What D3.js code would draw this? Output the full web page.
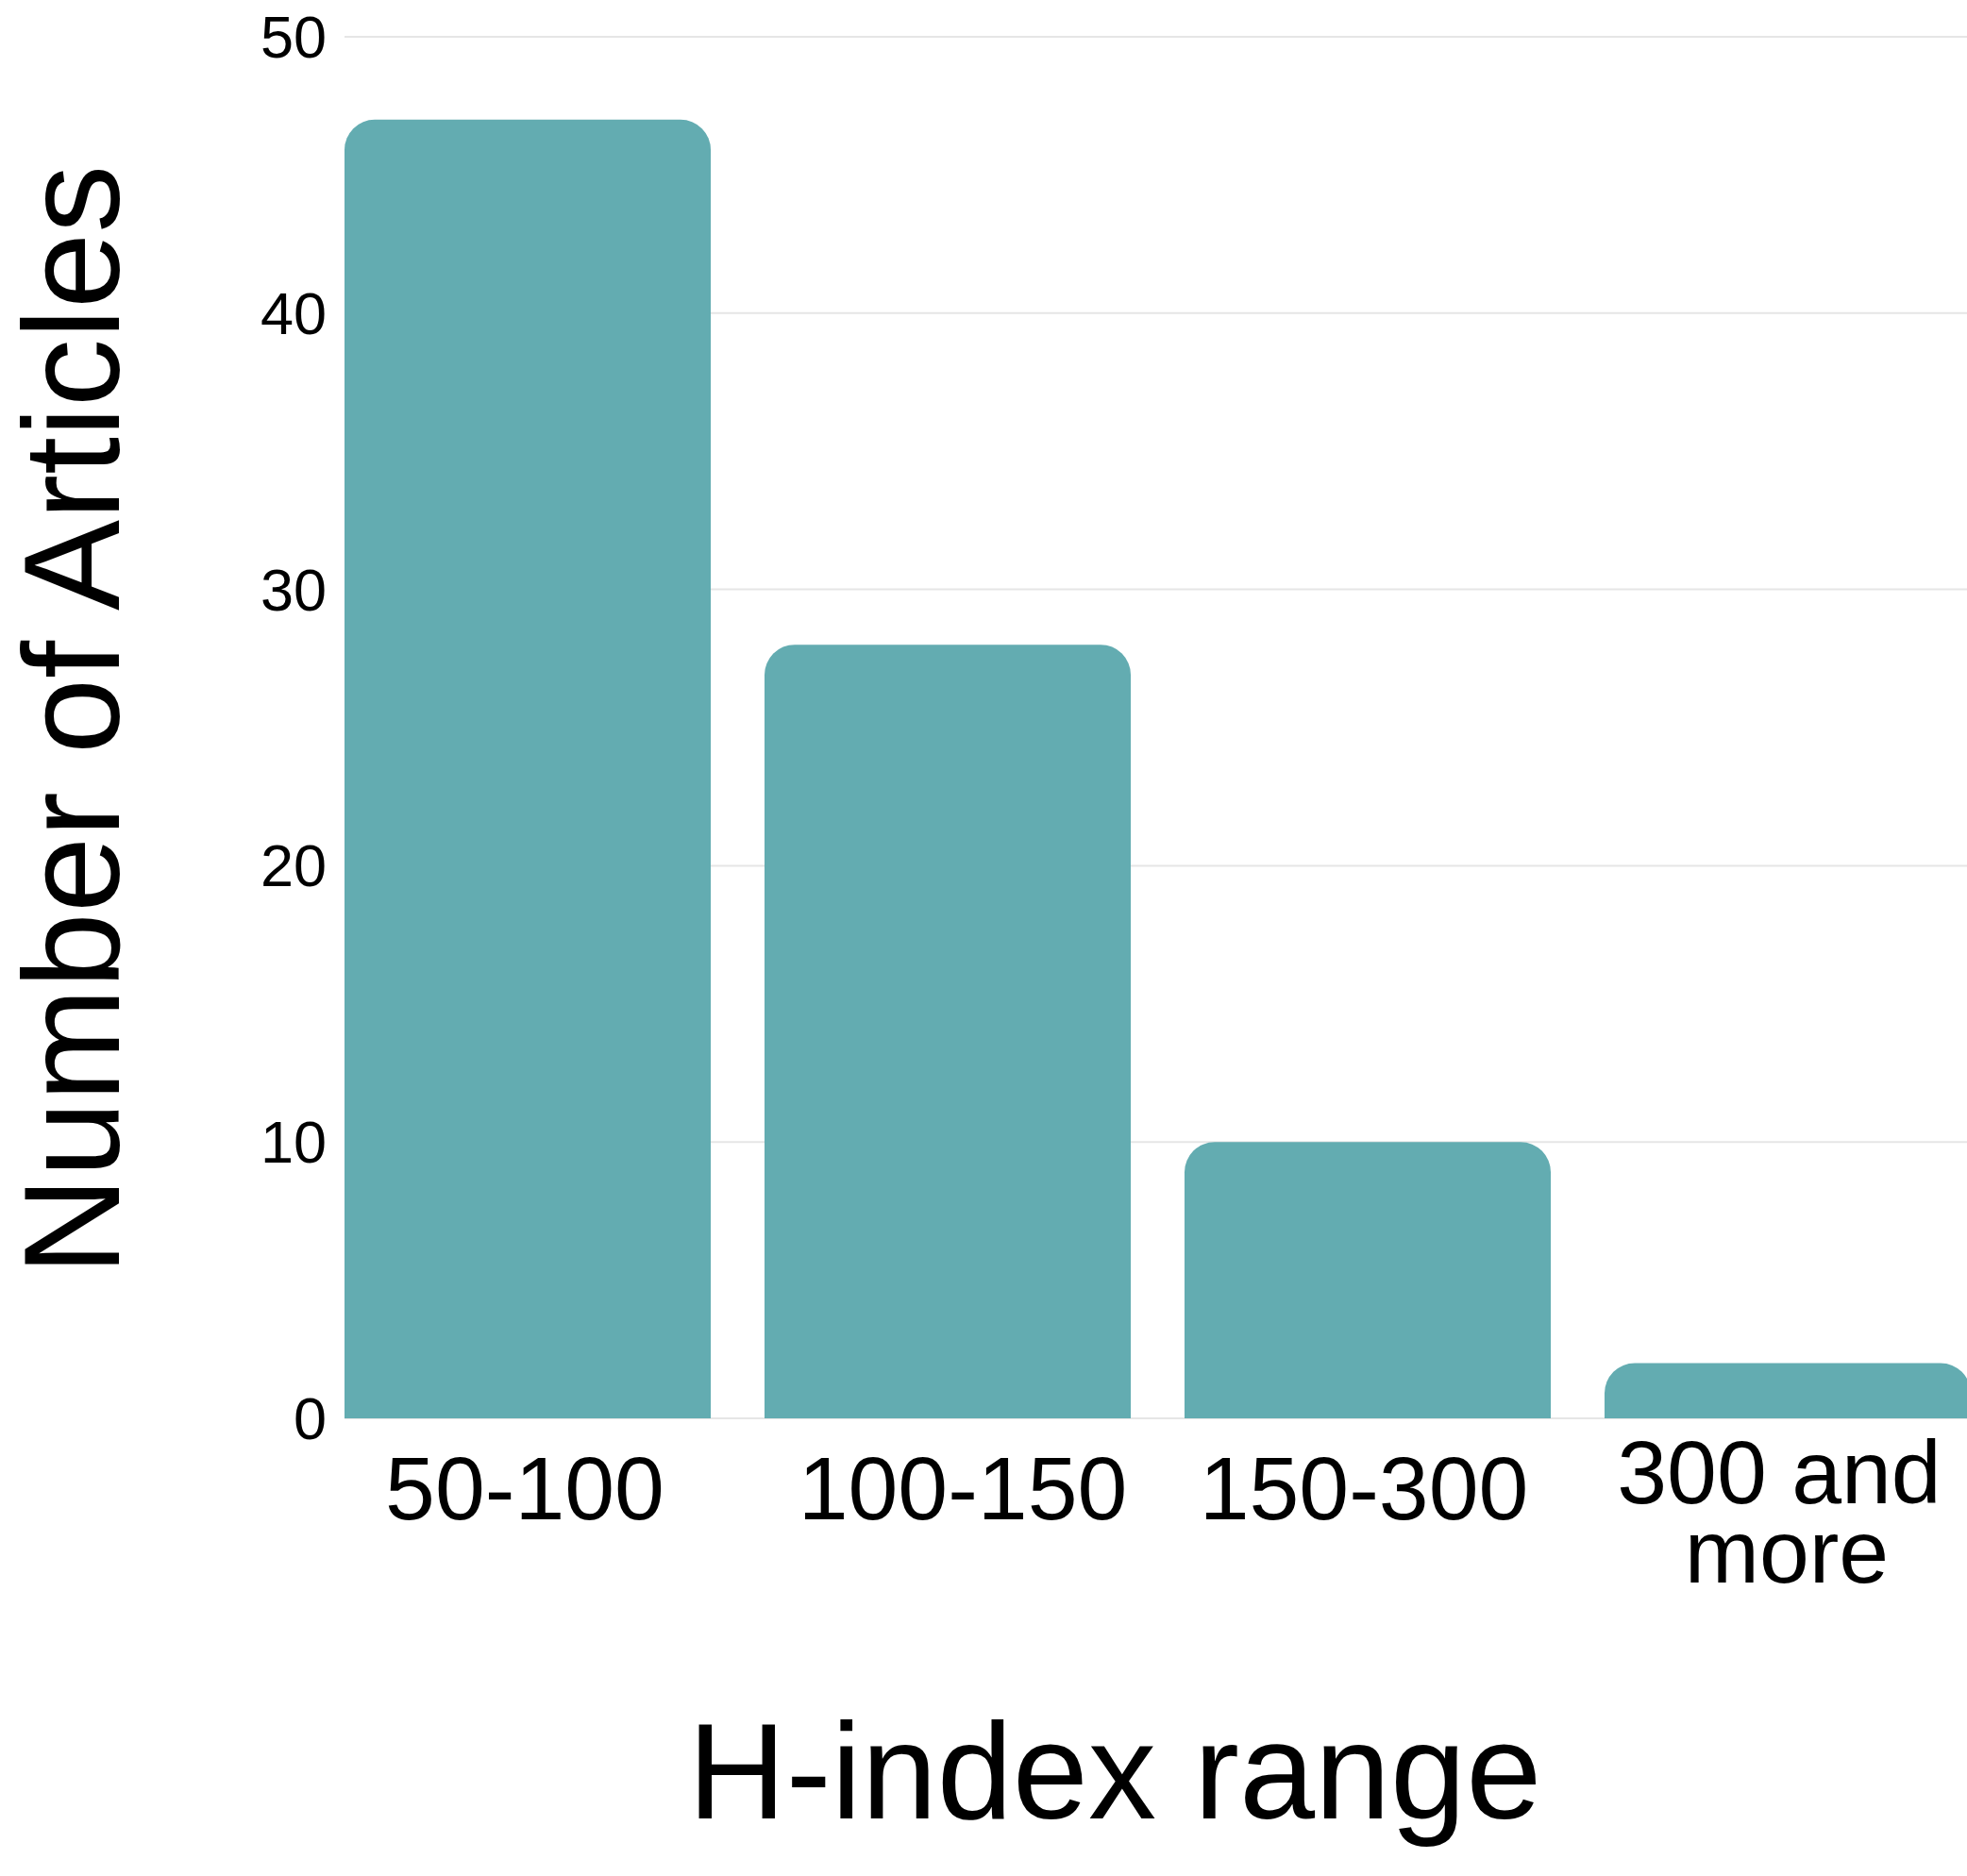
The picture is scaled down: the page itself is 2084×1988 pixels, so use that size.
<!DOCTYPE html>
<html>
<head>
<meta charset="utf-8">
<script src="https://cdn.jsdelivr.net/npm/d3@7"></script>
<style>
  html, body { margin: 0; padding: 0; background: #ffffff; overflow: hidden; }
  svg { display: block; }
  text { font-family: "Liberation Sans", Arial, sans-serif; fill: #000; }
</style>
</head>
<body>
<svg id="chart" width="2084" height="1988"></svg>
<script>
const categories = ["50-100", "100-150", "150-300", "300 and more"];
const categoryLines = [["50-100"], ["100-150"], ["150-300"], ["300 and", "more"]];
const values = [47, 28, 10, 2];
const yTicks = [0, 10, 20, 30, 40, 50];
const xTitle = "H-index range";
const yTitle = "Number of Articles";

const W = 2084, H = 1988;
const svg = d3.select("#chart");

const x = d3.scaleBand()
  .domain(categories)
  .range([365, 2088])
  .paddingInner(0.128)
  .paddingOuter(0);

const y = d3.scaleLinear()
  .domain([0, 50])
  .range([1503, 39]);

// gridlines
svg.append("g")
  .selectAll("line")
  .data(yTicks)
  .join("line")
  .attr("x1", 365)
  .attr("x2", W)
  .attr("y1", d => y(d))
  .attr("y2", d => y(d))
  .attr("stroke", "#e6e6e6")
  .attr("stroke-width", 2);

// y tick labels
svg.append("g")
  .selectAll("text")
  .data(yTicks)
  .join("text")
  .attr("x", 346)
  .attr("y", d => y(d))
  .attr("text-anchor", "end")
  .attr("dominant-baseline", "central")
  .attr("font-size", 63)
  .text(d => d);

// bars with rounded top corners
const r = 32;
function barPath(x0, w, yTop, yBase) {
  const rr = Math.min(r, (yBase - yTop), w / 2);
  return `M${x0},${yBase}` +
    `L${x0},${yTop + rr}` +
    `A${rr},${rr} 0 0 1 ${x0 + rr},${yTop}` +
    `L${x0 + w - rr},${yTop}` +
    `A${rr},${rr} 0 0 1 ${x0 + w},${yTop + rr}` +
    `L${x0 + w},${yBase}Z`;
}

svg.append("g")
  .selectAll("path")
  .data(values)
  .join("path")
  .attr("d", (d, i) => barPath(x(categories[i]), x.bandwidth(), y(d), y(0)))
  .attr("fill", "#63acb1");

// x tick labels (small per-label horizontal nudges as in the reference)
const labelNudge = [[-3], [16], [-4], [-9, -1]];
const xl = svg.append("g");
categoryLines.forEach((lines, i) => {
  const cx = x(categories[i]) + x.bandwidth() / 2;
  const t = xl.append("text")
    .attr("text-anchor", "middle")
    .attr("font-size", 95);
  lines.forEach((ln, j) => {
    const yy = lines.length === 1 ? 1610 : 1593 + j * 84;
    t.append("tspan").attr("x", cx + labelNudge[i][j]).attr("y", yy).text(ln);
  });
});

// axis titles
svg.append("text")
  .attr("x", 1181)
  .attr("y", 1927)
  .attr("text-anchor", "middle")
  .attr("font-size", 144)
  .text(xTitle);

svg.append("text")
  .attr("transform", "translate(126,763) rotate(-90)")
  .attr("text-anchor", "middle")
  .attr("font-size", 144)
  .text(yTitle);
</script>
</body>
</html>
